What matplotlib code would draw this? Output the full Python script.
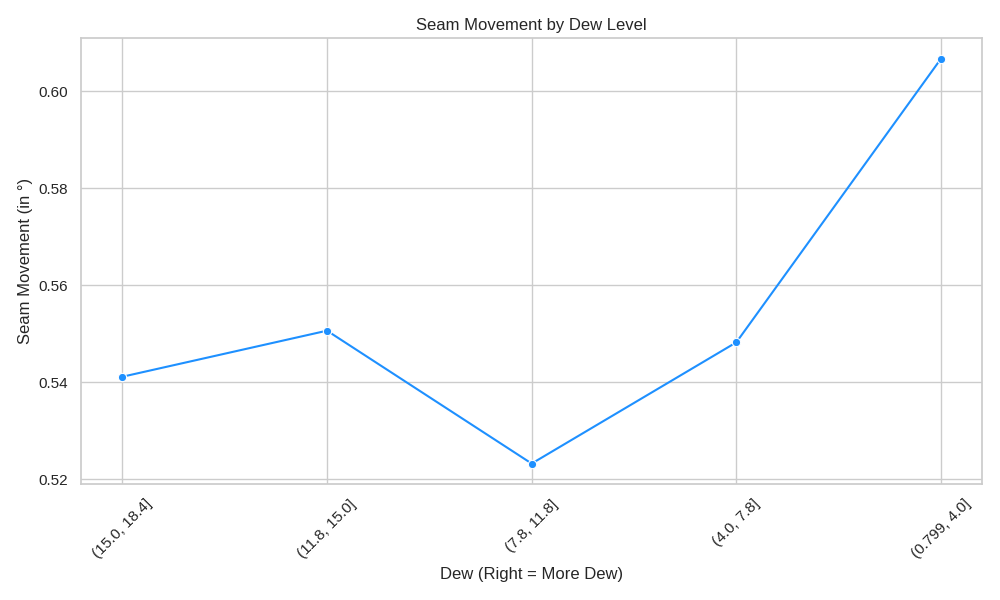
import matplotlib
matplotlib.use('Agg')
import matplotlib.pyplot as plt
import seaborn as sns

# Dew bins (left = least dew) and mean seam movement
dew_bins = ['(15.0, 18.4]', '(11.8, 15.0]', '(7.8, 11.8]', '(4.0, 7.8]', '(0.799, 4.0]']
seam_movement = [0.5411, 0.5506, 0.5232, 0.5482, 0.6067]

sns.set_theme(style='whitegrid')
plt.rcParams['font.family'] = ['Liberation Sans', 'DejaVu Sans']

fig, ax = plt.subplots(figsize=(10, 6), dpi=100)
ax.plot(dew_bins, seam_movement, color='dodgerblue', marker='o',
        markersize=6, markeredgecolor='white', markeredgewidth=0.8, linewidth=1.5)

ax.set_title('Seam Movement by Dew Level')
ax.set_xlabel('Dew (Right = More Dew)')
ax.set_ylabel('Seam Movement (in °)')
ax.set_yticks([0.52, 0.54, 0.56, 0.58, 0.60])
plt.xticks(rotation=45)
plt.tight_layout()
plt.savefig('out.png')
